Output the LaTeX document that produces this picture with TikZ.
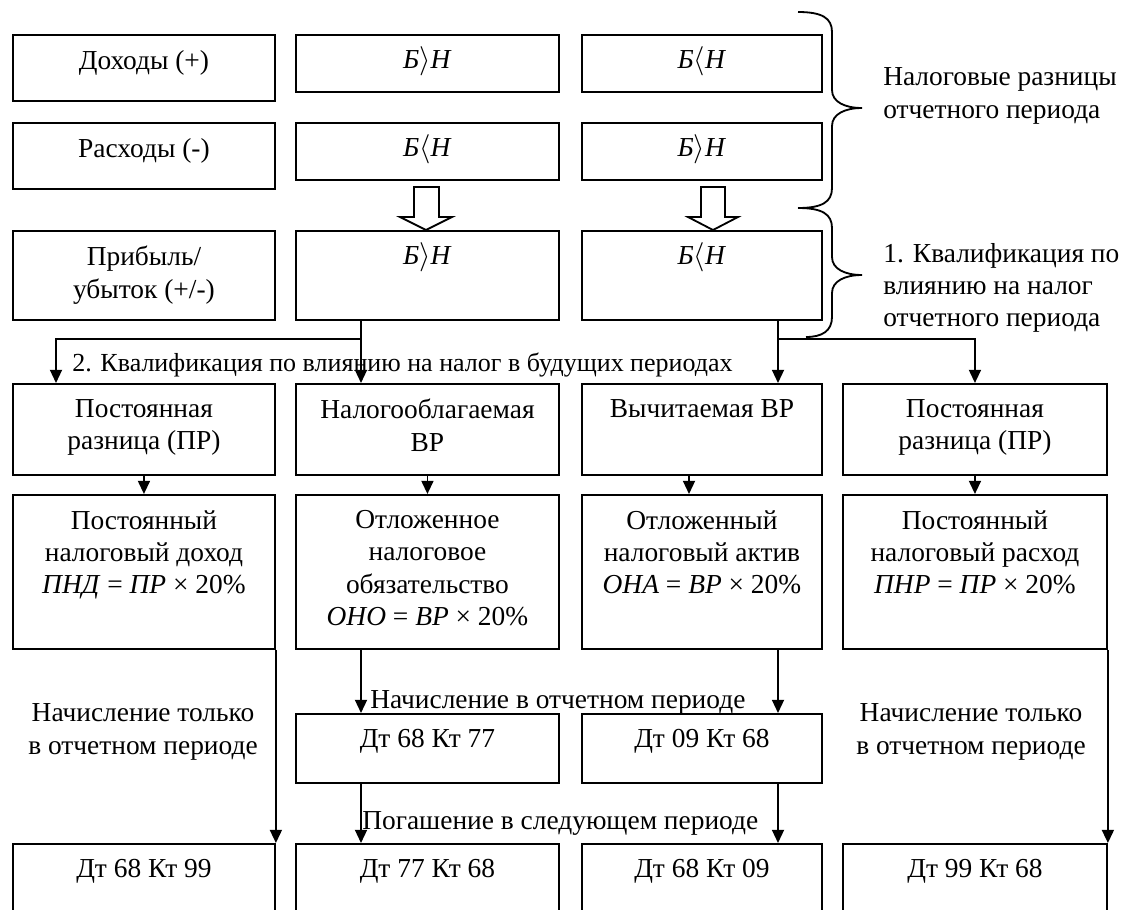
\documentclass[tikz,border=0pt]{standalone}
\usepackage{fontspec}
\setmainfont{Liberation Serif}
\usetikzlibrary{positioning,arrows.meta}

\tikzset{
  cell/.style 2 args={draw, line width=1.3pt, inner sep=0pt, anchor=north west,
    minimum width=#1, minimum height=#2},
  txt/.style={inner sep=0pt, align=center},
  arr/.style={line width=1.3pt, -{Triangle[length=0.33cm, width=0.3cm]}},
}

\begin{document}
\begin{tikzpicture}[x=0.025cm, y=-0.025cm, font=\fontsize{19.5}{23}\selectfont]
            \useasboundingbox (0,0) rectangle (1124,909);
            \clip (0,0) rectangle (1124,909);

            % rows 1-3
            \node[cell={6.55cm}{1.65cm}] (inc) at (12,34) {};
            \node[cell={6.575cm}{1.425cm}] (incA) at (295,34) {};
            \node[cell={6cm}{1.425cm}] (incB) at (581,34) {};
            \node[cell={6.55cm}{1.65cm}] (exp) at (12,122) {};
            \node[cell={6.575cm}{1.425cm}] (expA) at (295,122) {};
            \node[cell={6cm}{1.425cm}] (expB) at (581,122) {};
            \node[cell={6.55cm}{2.225cm}] (prof) at (12,230) {};
            \node[cell={6.575cm}{2.225cm}] (profA) at (295,230) {};
            \node[cell={6cm}{2.225cm}] (profB) at (581,230) {};

            \node[txt, below=0.4cm of inc.north] (inct) {Доходы (+)};
            \node[txt, below=0.4cm of incA.north] (incAt) {\textit{Б}$\smash{\rangle}$\textit{Н}};
            \node[txt, below=0.4cm of incB.north] (incBt) {\textit{Б}$\smash{\langle}$\textit{Н}};
            \node[txt, below=0.4cm of exp.north] (expt) {Расходы (-)};
            \node[txt, below=0.4cm of expA.north] (expAt) {\textit{Б}$\smash{\langle}$\textit{Н}};
            \node[txt, below=0.4cm of expB.north] (expBt) {\textit{Б}$\smash{\rangle}$\textit{Н}};
            \node[txt, below=0.4cm of prof.north] (proft) {Прибыль/\\убыток (+/-)};
            \node[txt, below=0.4cm of profA.north] (profAt) {\textit{Б}$\smash{\rangle}$\textit{Н}};
            \node[txt, below=0.4cm of profB.north] (profBt) {\textit{Б}$\smash{\langle}$\textit{Н}};

            % hollow arrows
            \draw[line width=1.3pt] (414,187) -- (439,187) -- (439,217) -- (452,217) -- (426,230) -- (400,217) -- (414,217) -- cycle;
            \draw[line width=1.3pt] (701,187) -- (725,187) -- (725,217) -- (738,217) -- (713,230) -- (688,217) -- (701,217) -- cycle;

            % braces
            \draw[line width=1.3pt] (798,12) .. controls (822,12) and (832,18) .. (832,32) -- (832,90)
                .. controls (832,102) and (845,108) .. (862,108)
                .. controls (845,108) and (832,114) .. (832,126) -- (832,188)
                .. controls (832,202) and (822,208) .. (798,208);
            \draw[line width=1.3pt] (798,208) .. controls (822,208) and (832,214) .. (832,228) -- (832,257)
                .. controls (832,269) and (845,275) .. (862,275)
                .. controls (845,275) and (832,281) .. (832,293) -- (832,317)
                .. controls (832,331) and (822,337) .. (806,337);
            \node[txt, align=left, anchor=west] (diff) at (883,96) {Налоговые разницы\\отчетного периода};
            \node[txt, align=left, anchor=west] (qual1) at (883,288) {1. Квалификация по\\влиянию на налог\\отчетного периода};

            % row 4
            \node[cell={6.55cm}{2.275cm}] (pr1) at (12,383) {};
            \node[cell={6.575cm}{2.275cm}] (vrT) at (295,383) {};
            \node[cell={6cm}{2.275cm}] (vrD) at (581,383) {};
            \node[cell={6.6cm}{2.275cm}] (pr2) at (842,383) {};
            \node[txt, below=0.4cm of pr1.north] (pr1t) {Постоянная\\разница (ПР)};
            \node[txt, below=0.4cm of vrT.north] (vrTt) {Налогооблагаемая\\ВР};
            \node[txt, below=0.4cm of vrD.north] (vrDt) {Вычитаемая ВР};
            \node[txt, below=0.4cm of pr2.north] (pr2t) {Постоянная\\разница (ПР)};

            % row 5
            \node[cell={6.55cm}{3.85cm}] (pnd) at (12,494) {};
            \node[cell={6.575cm}{3.85cm}] (ono) at (295,494) {};
            \node[cell={6cm}{3.85cm}] (ona) at (581,494) {};
            \node[cell={6.6cm}{3.85cm}] (pnr) at (842,494) {};
            \node[txt, below=0.4cm of pnd.north] (pndt) {Постоянный\\налоговый доход\\\textit{ПНД} = \textit{ПР} × 20\%};
            \node[txt, below=0.4cm of ono.north] (onot) {Отложенное\\налоговое\\обязательство\\\textit{ОНО} = \textit{ВР} × 20\%};
            \node[txt, below=0.4cm of ona.north] (onat) {Отложенный\\налоговый актив\\\textit{ОНА} = \textit{ВР} × 20\%};
            \node[txt, below=0.4cm of pnr.north] (pnrt) {Постоянный\\налоговый расход\\\textit{ПНР} = \textit{ПР} × 20\%};

            % postings
            \node[cell={6.575cm}{1.725cm}] (d6877) at (295,713) {};
            \node[cell={6cm}{1.725cm}] (d0968) at (581,713) {};
            \node[txt, below=0.4cm of d6877.north] (d6877t) {Дт 68 Кт 77};
            \node[txt, below=0.4cm of d0968.north] (d0968t) {Дт 09 Кт 68};
            \node[cell={6.55cm}{3cm}] (k6899) at (12,843) {};
            \node[cell={6.575cm}{3cm}] (k7768) at (295,843) {};
            \node[cell={6cm}{3cm}] (k6809) at (581,843) {};
            \node[cell={6.6cm}{3cm}] (k9968) at (842,843) {};
            \node[txt, below=0.4cm of k6899.north] (k6899t) {Дт 68 Кт 99};
            \node[txt, below=0.4cm of k7768.north] (k7768t) {Дт 77 Кт 68};
            \node[txt, below=0.4cm of k6809.north] (k6809t) {Дт 68 Кт 09};
            \node[txt, below=0.4cm of k9968.north] (k9968t) {Дт 99 Кт 68};

            % connectors
            \coordinate (jA) at (361,339);
            \coordinate (jB) at (778,339);
            \coordinate (xa) at (56,0);
            \coordinate (xe) at (689,0);
            \draw[arr] (jA |- profA.south) -- (jA |- vrT.north);
            \draw[arr] (jA) -| (xa |- pr1.north);
            \draw[arr] (jB |- profB.south) -- (jB |- vrD.north);
            \draw[arr] (jB) -| (pr2.north);

            \draw[arr] (pr1.south) -- (pnd.north);
            \draw[arr] (vrT.south) -- (ono.north);
            \draw[arr] (xe |- vrD.south) -- (xe |- ona.north);
            \draw[arr] (pr2.south) -- (pnr.north);

            \draw[arr] (jA |- ono.south) -- (jA |- d6877.north);
            \draw[arr] (jA |- d6877.south) -- (jA |- k7768.north);
            \draw[arr] (jB |- ona.south) -- (jB |- d0968.north);
            \draw[arr] (jB |- d0968.south) -- (jB |- k6809.north);
            \draw[arr] (pnd.south east) -- (k6899.north east);
            \draw[arr] (pnr.south east) -- (k9968.north east);

            \node[txt, anchor=west, font=\fontsize{18.5}{22}\selectfont] (qual2) at (72,365) {2. Квалификация по влиянию на налог в будущих периодах};
            \node[txt, anchor=west] (accr) at (370,702) {Начисление в отчетном периоде};
            \node[txt, anchor=west] (repay) at (362,823) {Погашение в следующем периоде};
            \node[txt] (only1) at (143,732) {Начисление только\\в отчетном периоде};
            \node[txt] (only4) at (971,732) {Начисление только\\в отчетном периоде};
        \end{tikzpicture}
\end{document}
